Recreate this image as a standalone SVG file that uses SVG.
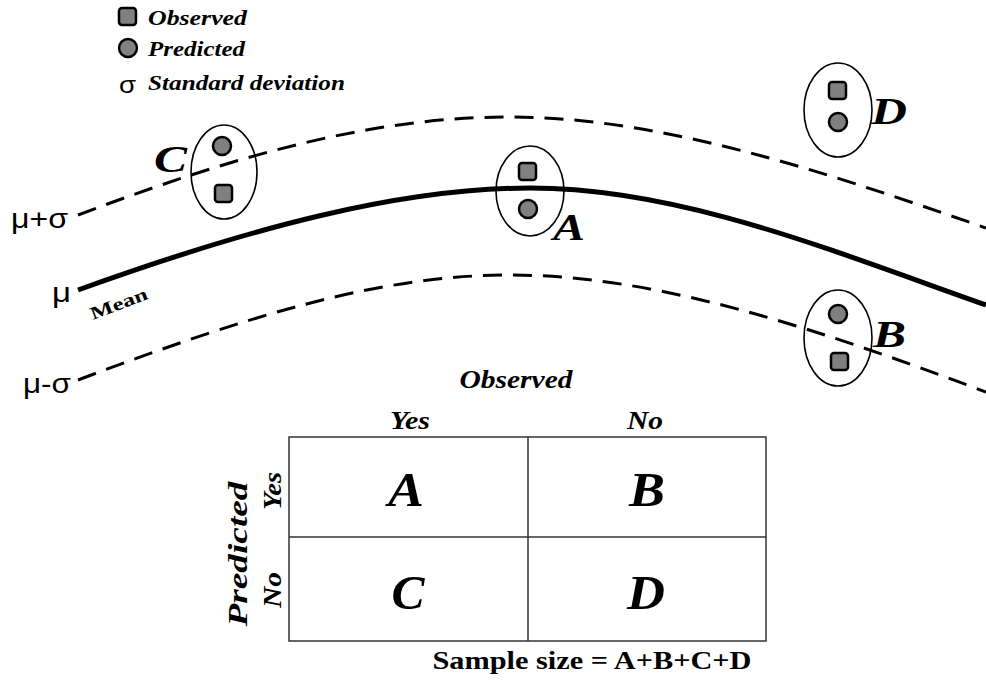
<svg xmlns="http://www.w3.org/2000/svg" width="986" height="680" viewBox="0 0 986 680">
<style>
.bi{font-family:"Liberation Serif","Times New Roman",serif;font-weight:bold;font-style:italic;fill:#000}
.b{font-family:"Liberation Serif","Times New Roman",serif;font-weight:bold;fill:#000}
.s{font-family:"Liberation Sans",Arial,sans-serif;fill:#000}
.sq{fill:#808080;stroke:#000;stroke-width:2.5}
.ci{fill:#808080;stroke:#000;stroke-width:2.5}
.el{fill:none;stroke:#000;stroke-width:1.6}
.dash{fill:none;stroke:#000;stroke-width:3;stroke-dasharray:19 11}
.tb{fill:none;stroke:#333;stroke-width:1.5}
</style>
<rect width="986" height="680" fill="#fff"/>
<g id="legend">
<rect class="sq" x="119" y="8" width="17" height="17" rx="3"/>
<text class="bi" x="148" y="25" font-size="22" textLength="99" lengthAdjust="spacingAndGlyphs">Observed</text>
<circle class="ci" cx="128" cy="48" r="9"/>
<text class="bi" x="148" y="56" font-size="22" textLength="97" lengthAdjust="spacingAndGlyphs">Predicted</text>
<text class="s" x="119" y="93" font-size="24" textLength="17" lengthAdjust="spacingAndGlyphs">σ</text>
<text class="bi" x="148" y="90" font-size="22" textLength="197" lengthAdjust="spacingAndGlyphs">Standard deviation</text>
</g>
<g id="curves">
<path class="dash" d="M78,215 C250,150 380,117 510,117 C660,117 820,170 986,228"/>
<path d="M78,290 C250,228 400,188 530,188 C680,188 830,250 986,305" fill="none" stroke="#000" stroke-width="5"/>
<path class="dash" d="M78,380 C250,315 380,275 510,275 C660,275 820,330 986,392"/>
</g>
<g id="curve-labels">
<text class="s" x="11" y="228" font-size="27" textLength="57" lengthAdjust="spacingAndGlyphs">μ+σ</text>
<text class="s" x="52" y="302" font-size="27" textLength="19" lengthAdjust="spacingAndGlyphs">μ</text>
<text class="s" x="23" y="393" font-size="27" textLength="48" lengthAdjust="spacingAndGlyphs">μ-σ</text>
<text class="b" x="93" y="320" font-size="18" textLength="60" lengthAdjust="spacingAndGlyphs" transform="rotate(-21 93 320)">Mean</text>
</g>
<g id="node-C">
<ellipse class="el" cx="224" cy="172" rx="33" ry="47"/>
<circle class="ci" cx="222" cy="146" r="9"/>
<rect class="sq" x="215" y="185" width="17" height="17" rx="3"/>
<text class="bi" x="154" y="172" font-size="38" textLength="33" lengthAdjust="spacingAndGlyphs">C</text>
</g>
<g id="node-A">
<ellipse class="el" cx="530" cy="191" rx="34" ry="45"/>
<rect class="sq" x="519" y="163" width="17" height="17" rx="3"/>
<circle class="ci" cx="528" cy="209" r="9"/>
<text class="bi" x="553" y="240" font-size="38" textLength="32" lengthAdjust="spacingAndGlyphs">A</text>
</g>
<g id="node-D">
<ellipse class="el" cx="838" cy="110" rx="34" ry="47"/>
<rect class="sq" x="829" y="82" width="17" height="17" rx="3"/>
<circle class="ci" cx="838" cy="122" r="9"/>
<text class="bi" x="871" y="124" font-size="38" textLength="36" lengthAdjust="spacingAndGlyphs">D</text>
</g>
<g id="node-B">
<ellipse class="el" cx="838" cy="338" rx="34" ry="48"/>
<circle class="ci" cx="838" cy="314" r="9"/>
<rect class="sq" x="831" y="353" width="17" height="17" rx="3"/>
<text class="bi" x="873" y="347" font-size="38" textLength="33" lengthAdjust="spacingAndGlyphs">B</text>
</g>
<g id="table">
<rect class="tb" x="289" y="437" width="477" height="204"/>
<line class="tb" x1="528" y1="437" x2="528" y2="641"/>
<line class="tb" x1="289" y1="537" x2="766" y2="537"/>
<text class="bi" x="516" y="388" font-size="26" text-anchor="middle" textLength="113" lengthAdjust="spacingAndGlyphs">Observed</text>
<text class="bi" x="410" y="429" font-size="26" text-anchor="middle" textLength="40" lengthAdjust="spacingAndGlyphs">Yes</text>
<text class="bi" x="645" y="429" font-size="26" text-anchor="middle" textLength="36" lengthAdjust="spacingAndGlyphs">No</text>
<text class="bi" x="406" y="506" font-size="48" text-anchor="middle" textLength="36" lengthAdjust="spacingAndGlyphs">A</text>
<text class="bi" x="647" y="506" font-size="48" text-anchor="middle" textLength="36" lengthAdjust="spacingAndGlyphs">B</text>
<text class="bi" x="408" y="609" font-size="48" text-anchor="middle" textLength="33" lengthAdjust="spacingAndGlyphs">C</text>
<text class="bi" x="646" y="609" font-size="48" text-anchor="middle" textLength="38" lengthAdjust="spacingAndGlyphs">D</text>
<text class="bi" x="0" y="0" font-size="27" text-anchor="middle" textLength="145" lengthAdjust="spacingAndGlyphs" transform="translate(247 554) rotate(-90)">Predicted</text>
<text class="bi" x="0" y="0" font-size="25" text-anchor="middle" textLength="38" lengthAdjust="spacingAndGlyphs" transform="translate(281 491) rotate(-90)">Yes</text>
<text class="bi" x="0" y="0" font-size="25" text-anchor="middle" textLength="36" lengthAdjust="spacingAndGlyphs" transform="translate(281 590) rotate(-90)">No</text>
<text class="b" x="592" y="669" font-size="26" text-anchor="middle" textLength="319" lengthAdjust="spacingAndGlyphs">Sample size = A+B+C+D</text>
</g>
</svg>
